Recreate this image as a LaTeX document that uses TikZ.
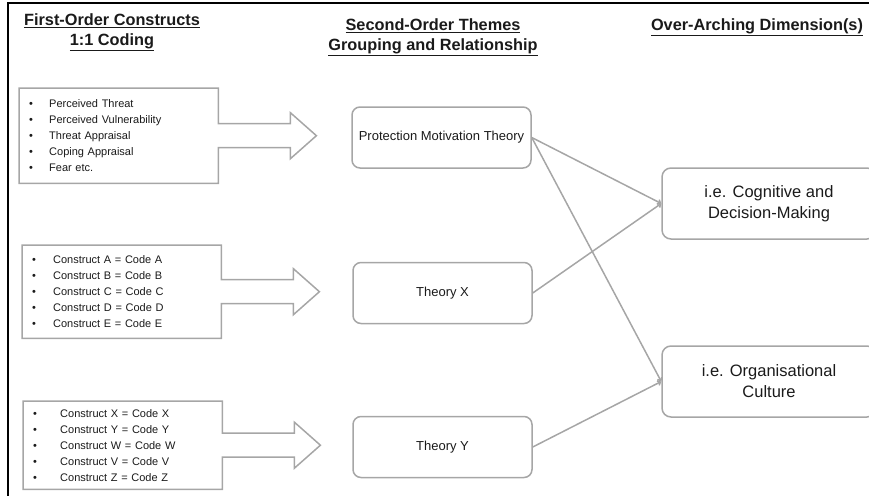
\documentclass[tikz,border=0pt]{standalone}
\usepackage{fontspec}
\setmainfont{Liberation Sans}
\usetikzlibrary{arrows.meta}
\definecolor{linegray}{HTML}{A6A6A6}
\definecolor{inkgray}{HTML}{1A1A1A}
\newcommand{\bul}[2][20pt]{\makebox[#1][l]{•}#2}
\tikzset{
  heading/.style={font=\fontsize{16.3}{20}\selectfont\bfseries, align=center, text=inkgray},
  listbox/.style={anchor=north west, minimum width=199pt, inner sep=0pt, inner xsep=10pt,
    text width=179pt, align=left, text=inkgray, font=\fontsize{11}{16}\selectfont},
  outline/.style={draw=linegray, line width=1.5pt, line join=miter},
  theory/.style={draw=linegray, line width=1.5pt, rounded corners=8pt, minimum width=179pt,
    minimum height=61pt, inner xsep=2pt, text=inkgray, font=\fontsize{13}{16}\selectfont},
  dimbox/.style={draw=linegray, line width=1.5pt, rounded corners=9pt, minimum width=214pt,
    minimum height=71pt, align=center, text=inkgray, font=\fontsize{16.5}{21}\selectfont},
  link/.style={draw=linegray, line width=1.5pt, -{Straight Barb[length=2.5pt,width=5pt]}}
}
\begin{document}
\begin{tikzpicture}[x=1pt,y=-1pt]
\useasboundingbox (0,0) rectangle (869,495);
% frame
\draw[line width=2pt] (8,496) -- (8,3) -- (870,3);

% column headings
\node[heading] (firsthd) at (112,32) {\underline{First-Order Constructs}\\\underline{1:1 Coding}};
\node[heading] (secondhd) at (433,37) {\underline{Second-Order Themes}\\\underline{Grouping and Relationship}};
\node[heading] (overhd) at (757,27) {\underline{Over-Arching Dimension(s)}};

% first-order constructs
\node[listbox, minimum height=95pt] (pmtlist) at (19,88) {%
  \bul{Perceived Threat}\\
  \bul{Perceived Vulnerability}\\
  \bul{Threat Appraisal}\\
  \bul{Coping Appraisal}\\
  \bul{Fear etc.}};
\node[listbox, minimum height=93pt] (xlist) at (22,245) {%
  \bul[21pt]{Construct A = Code A}\\
  \bul[21pt]{Construct B = Code B}\\
  \bul[21pt]{Construct C = Code C}\\
  \bul[21pt]{Construct D = Code D}\\
  \bul[21pt]{Construct E = Code E}};
\node[listbox, minimum height=88pt] (ylist) at (23,401) {%
  \bul[27pt]{Construct X = Code X}\\
  \bul[27pt]{Construct Y = Code Y}\\
  \bul[27pt]{Construct W = Code W}\\
  \bul[27pt]{Construct V = Code V}\\
  \bul[27pt]{Construct Z = Code Z}};

% box and arrow outlines
\foreach \b in {pmtlist,xlist,ylist}
  \draw[outline] (\b.north west) -| ([yshift=12pt]\b.east) -- ++(72,0) -- ++(0,-11)
    -- ++(26,23) -- ++(-26,23) -- ++(0,-11) -- ++(-72,0) |- (\b.south west) -- cycle;

% second-order themes
\node[theory] (pmt) at (441.5,137.5) {Protection Motivation Theory};
\node[theory] (thx) at (442.5,293) {Theory X};
\node[theory] (thy) at (442.5,447) {Theory Y};

% over-arching dimensions
\node[dimbox] (cog) at (769,203.5) {i.e. Cognitive and\\Decision-Making};
\node[dimbox] (org) at (769,381.5) {i.e. Organisational\\Culture};

\draw[link] (pmt.east) -- (cog.west);
\draw[link] (thx.east) -- (cog.west);
\draw[link] (pmt.east) -- (org.west);
\draw[link] (thy.east) -- (org.west);
\end{tikzpicture}
\end{document}
